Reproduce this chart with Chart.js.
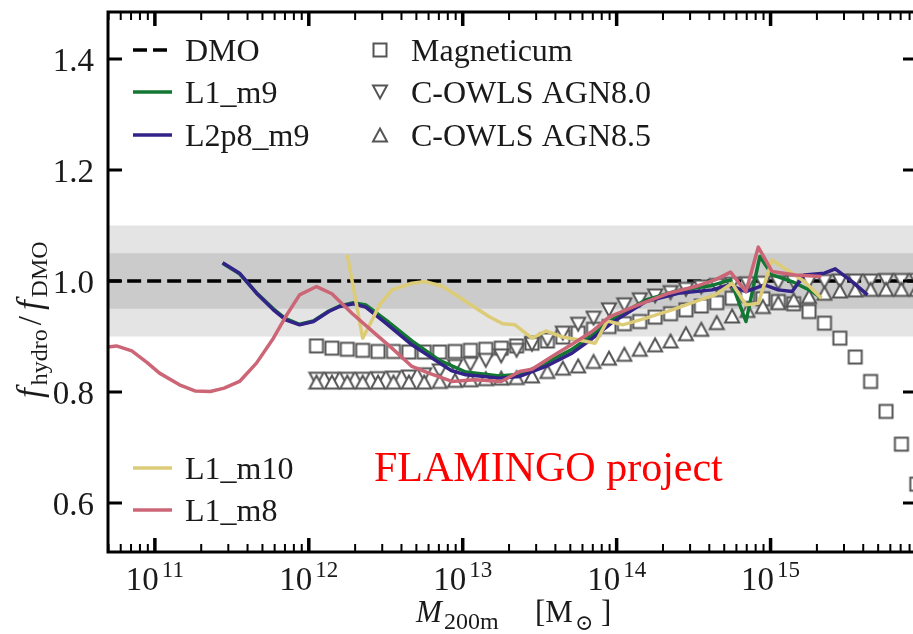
<!DOCTYPE html>
<html lang="en">
<head>
  <meta charset="UTF-8" />
  <title>f_hydro / f_DMO vs M200m</title>
  <script src="https://cdn.jsdelivr.net/npm/chart.js"></script>
  <style>
    html, body { margin: 0; padding: 0; background: #fff; overflow: hidden; }
    #wrap { width: 925px; height: 634px; }
  </style>
</head>
<body>
  <div id="wrap"><canvas id="ratioChart" width="925" height="634"></canvas></div>

  <script>
// === Data: log10(M200m / Msun) and f_hydro / f_DMO ===
const m8LogM = [10.69, 10.75, 10.85, 10.95, 11.03, 11.16, 11.26, 11.36, 11.45, 11.55,
                11.66, 11.77, 11.85, 11.94, 12.05, 12.15, 12.28, 12.44, 12.54, 12.67,
                12.78, 12.93, 13.08, 13.25, 13.37, 13.45, 13.58, 13.71, 13.84, 13.95,
                14.14, 14.34, 14.51, 14.64, 14.74, 14.84, 14.92, 15.01, 15.16, 15.33];
const m8Ratio = [0.881, 0.883, 0.874, 0.853, 0.834, 0.813, 0.802, 0.801, 0.807, 0.819,
                 0.852, 0.897, 0.936, 0.975, 0.990, 0.977, 0.942, 0.903, 0.879, 0.846,
                 0.834, 0.819, 0.822, 0.819, 0.837, 0.841, 0.864, 0.886, 0.909, 0.935,
                 0.957, 0.978, 0.990, 1.002, 1.016, 0.981, 1.061, 1.017, 1.011, 1.008];

const m9LogM = [11.44, 11.55, 11.66, 11.77, 11.85, 11.94, 12.03, 12.13, 12.20, 12.29,
                12.37, 12.50, 12.67, 12.85, 13.02, 13.24, 13.37, 13.54, 13.71, 13.84,
                13.97, 14.19, 14.40, 14.62, 14.74, 14.84, 14.93, 15.01, 15.14, 15.27, 15.33];
const m9Ratio = [1.032, 1.013, 0.979, 0.950, 0.932, 0.922, 0.928, 0.946, 0.955, 0.961,
                 0.957, 0.930, 0.892, 0.857, 0.836, 0.829, 0.832, 0.852, 0.877, 0.902,
                 0.930, 0.966, 0.983, 0.992, 1.002, 0.927, 1.044, 1.011, 0.999, 0.981, 0.969];

const l2p8LogM = [11.44, 11.55, 11.66, 11.77, 11.85, 11.94, 12.03, 12.13, 12.20, 12.29,
                  12.37, 12.50, 12.67, 12.85, 12.93, 13.02, 13.24, 13.37, 13.54, 13.71,
                  13.84, 13.97, 14.19, 14.40, 14.62, 14.73, 14.84, 14.96, 15.05, 15.14,
                  15.22, 15.35, 15.42, 15.53, 15.63];
const l2p8Ratio = [1.033, 1.014, 0.978, 0.948, 0.930, 0.921, 0.927, 0.945, 0.954, 0.959,
                   0.953, 0.924, 0.885, 0.852, 0.838, 0.831, 0.825, 0.828, 0.846, 0.870,
                   0.896, 0.925, 0.963, 0.978, 0.984, 0.993, 0.981, 0.993, 0.984, 0.981,
                   1.011, 1.014, 1.022, 0.999, 0.975];

const m10LogM = [12.25, 12.35, 12.39, 12.46, 12.54, 12.67, 12.76, 12.87, 13.02, 13.17,
                 13.26, 13.34, 13.45, 13.54, 13.65, 13.75, 13.86, 13.94, 14.04, 14.19,
                 14.36, 14.51, 14.64, 14.75, 14.84, 14.92, 15.01, 15.09, 15.22, 15.33];
const m10Ratio = [1.047, 0.897, 0.918, 0.957, 0.984, 0.996, 0.999, 0.990, 0.963, 0.936,
                  0.923, 0.921, 0.897, 0.910, 0.899, 0.894, 0.888, 0.928, 0.921, 0.933,
                  0.948, 0.963, 0.975, 0.996, 0.957, 0.960, 1.038, 1.023, 0.999, 0.969];

// Magneticum and cosmo-OWLS share one mass grid
const simLogM = [12.05, 12.15, 12.25, 12.35, 12.45, 12.55, 12.65, 12.75, 12.85, 12.95,
                 13.05, 13.15, 13.25, 13.35, 13.45, 13.55, 13.65, 13.75, 13.85, 13.95,
                 14.05, 14.15, 14.25, 14.35, 14.45, 14.55, 14.65, 14.75, 14.85, 14.95,
                 15.05, 15.15, 15.25, 15.35, 15.45, 15.55, 15.65, 15.75, 15.85, 15.95];
const magneticumRatio = [0.883, 0.879, 0.877, 0.875, 0.873, 0.873, 0.872, 0.872, 0.872, 0.873,
                         0.875, 0.877, 0.879, 0.883, 0.888, 0.892, 0.899, 0.906, 0.913, 0.918,
                         0.923, 0.927, 0.935, 0.941, 0.948, 0.955, 0.961, 0.969, 0.974, 0.968,
                         0.963, 0.959, 0.945, 0.924, 0.897, 0.863, 0.819, 0.765, 0.706, 0.634];
const agn80Ratio = [0.823, 0.823, 0.823, 0.823, 0.824, 0.825, 0.827, 0.831, 0.838, 0.846,
                    0.850, 0.857, 0.865, 0.875, 0.886, 0.894, 0.906, 0.922, 0.933, 0.948,
                    0.957, 0.966, 0.973, 0.979, 0.985, 0.989, 0.992, 0.994, 0.995, 0.996,
                    0.997, 0.998, 0.999, 0.999, 1.000, 1.000, 1.000, 1.001, 1.001, 1.001];
const agn85Ratio = [0.818, 0.818, 0.818, 0.818, 0.818, 0.818, 0.818, 0.818, 0.819, 0.821,
                    0.822, 0.824, 0.825, 0.826, 0.829, 0.837, 0.843, 0.847, 0.855, 0.861,
                    0.868, 0.877, 0.885, 0.892, 0.905, 0.913, 0.925, 0.937, 0.947, 0.954,
                    0.961, 0.966, 0.972, 0.978, 0.982, 0.984, 0.985, 0.985, 0.985, 0.985];

const dmoLogM = [10.69, 15.96];
const dmoRatio = [1.0, 1.0];

// shaded 10% and 5% bands around unity
const outerBand = [0.90, 1.10];
const innerBand = [0.95, 1.05];

const yTicks = [0.6, 0.8, 1.0, 1.2, 1.4];
const xDecades = [11, 12, 13, 14, 15];

const SERIF = '"Liberation Serif", "Times New Roman", serif';
const COLORS = { m8: '#cc6677', m9: '#117733', l2p8: '#332288', m10: '#ddcc77' };

function toPoints(logM, ratio) {
  return logM.map((m, i) => ({ x: Math.pow(10, m), y: ratio[i] }));
}

// open markers, white inside, grey edge
function markerCanvas(kind) {
  const c = document.createElement('canvas');
  c.width = 18; c.height = 18;
  const g = c.getContext('2d');
  g.beginPath();
  if (kind === 'square') {
    g.rect(2.5, 2.5, 13, 13);
  } else if (kind === 'down') {
    g.moveTo(2, 2.5); g.lineTo(16, 2.5); g.lineTo(9, 15.5); g.closePath();
  } else {
    g.moveTo(9, 2.5); g.lineTo(16, 15.5); g.lineTo(2, 15.5); g.closePath();
  }
  g.fillStyle = '#ffffff';
  g.fill();
  g.lineWidth = 2;
  g.strokeStyle = '#555555';
  g.stroke();
  return c;
}
const squareMark = markerCanvas('square');
const downMark = markerCanvas('down');
const upMark = markerCanvas('up');

function lineSet(label, logM, ratio, color, order) {
  return {
    label, data: toPoints(logM, ratio), showLine: true,
    borderColor: color, borderWidth: 3.5, pointRadius: 0,
    borderJoinStyle: 'round', tension: 0, order
  };
}
function markerSet(label, ratio, mark, order) {
  return {
    label, data: toPoints(simLogM, ratio), showLine: false,
    pointStyle: mark, pointRadius: 7, clip: false, order
  };
}

// === Bands, frame, ticks, labels and legends ===
const decorations = {
  id: 'decorations',
  beforeDatasetsDraw(chart) {
    const { ctx, chartArea: a, scales: { y } } = chart;
    ctx.save();
    ctx.fillStyle = '#e4e4e4';
    let t = y.getPixelForValue(outerBand[1]), b = y.getPixelForValue(outerBand[0]);
    ctx.fillRect(a.left, t, a.right - a.left, b - t);
    ctx.fillStyle = '#cbcbcb';
    t = y.getPixelForValue(innerBand[1]); b = y.getPixelForValue(innerBand[0]);
    ctx.fillRect(a.left, t, a.right - a.left, b - t);
    ctx.restore();
  },
  afterDraw(chart) {
    const { ctx, chartArea: a, scales: { x, y } } = chart;
    ctx.save();

    // spines
    ctx.strokeStyle = '#000';
    ctx.lineWidth = 3;
    ctx.strokeRect(a.left, a.top, a.right - a.left, a.bottom - a.top);

    // x ticks (log, inward, top and bottom)
    for (let d = 10; d <= 16; d++) {
      for (let k = 1; k <= 9; k++) {
        const v = k * Math.pow(10, d);
        if (v < x.min || v > x.max) continue;
        const px = x.getPixelForValue(v);
        const major = k === 1;
        const len = major ? 14 : 8;
        ctx.lineWidth = major ? 3.5 : 2;
        ctx.beginPath();
        ctx.moveTo(px, a.bottom); ctx.lineTo(px, a.bottom - len);
        ctx.moveTo(px, a.top); ctx.lineTo(px, a.top + len);
        ctx.stroke();
      }
    }
    // y ticks
    ctx.lineWidth = 3;
    yTicks.forEach(v => {
      const py = y.getPixelForValue(v);
      ctx.beginPath();
      ctx.moveTo(a.left, py); ctx.lineTo(a.left + 14, py);
      ctx.moveTo(a.right, py); ctx.lineTo(a.right - 14, py);
      ctx.stroke();
    });

    // tick labels
    ctx.fillStyle = '#1a1a1a';
    ctx.textAlign = 'right';
    ctx.font = `33px ${SERIF}`;
    yTicks.forEach(v => {
      ctx.fillText(v.toFixed(1), a.left - 14, y.getPixelForValue(v) + 12);
    });
    ctx.textAlign = 'left';
    xDecades.forEach(e => {
      const cx = x.getPixelForValue(Math.pow(10, e));
      ctx.font = `33px ${SERIF}`;
      const wb = ctx.measureText('10').width;
      ctx.font = `23px ${SERIF}`;
      const we = ctx.measureText(String(e)).width;
      const left = cx - (wb + we + 3) / 2;
      ctx.font = `33px ${SERIF}`;
      ctx.fillText('10', left, 590);
      ctx.font = `23px ${SERIF}`;
      ctx.fillText(String(e), left + wb + 3, 577);
    });

    // x axis title: M_200m [M_sun]
    ctx.font = `italic 31px ${SERIF}`;
    ctx.fillText('M', 416, 622);
    ctx.font = `24px ${SERIF}`;
    ctx.fillText('200m', 444, 629);
    ctx.font = `31px ${SERIF}`;
    ctx.fillText('[M', 535, 622);
    ctx.font = `22px "DejaVu Serif", serif`;
    ctx.fillText('\u2299', 575, 630);
    ctx.font = `31px ${SERIF}`;
    ctx.fillText(']', 601, 622);

    // y axis title: f_hydro / f_DMO
    ctx.save();
    ctx.translate(41, 398);
    ctx.rotate(-Math.PI / 2);
    let cx = 0;
    const piece = (txt, font, dy) => {
      ctx.font = font;
      ctx.fillText(txt, cx, dy);
      cx += ctx.measureText(txt).width;
    };
    piece('f', `italic 35px ${SERIF}`, 0);
    cx += 3;
    piece('hydro', `24px ${SERIF}`, 6);
    cx += 4;
    piece('/', `33px ${SERIF}`, 0);
    cx += 6;
    piece('f', `italic 35px ${SERIF}`, 0);
    cx += 3;
    piece('DMO', `24px ${SERIF}`, 6);
    ctx.restore();

    // legends
    ctx.font = `32px ${SERIF}`;
    ctx.fillStyle = '#1a1a1a';
    const lineEntry = (label, color, yy, dash) => {
      ctx.save();
      ctx.strokeStyle = color;
      ctx.lineWidth = 3.5;
      ctx.setLineDash(dash || []);
      ctx.beginPath();
      ctx.moveTo(133, yy); ctx.lineTo(172, yy);
      ctx.stroke();
      ctx.restore();
      ctx.fillText(label, 185, yy + 11);
    };
    const markEntry = (label, mark, yy) => {
      ctx.drawImage(mark, 380 - 9, yy - 9);
      ctx.fillText(label, 411, yy + 11);
    };
    lineEntry('DMO', '#000', 50, [14, 6]);
    lineEntry('L1_m9', COLORS.m9, 92);
    lineEntry('L2p8_m9', COLORS.l2p8, 135);
    markEntry('Magneticum', squareMark, 50);
    markEntry('C-OWLS AGN8.0', downMark, 92);
    markEntry('C-OWLS AGN8.5', upMark, 135);
    lineEntry('L1_m10', COLORS.m10, 468);
    lineEntry('L1_m8', COLORS.m8, 510);

    ctx.fillStyle = '#ff0000';
    ctx.font = `42px ${SERIF}`;
    ctx.fillText('FLAMINGO project', 374, 481);

    ctx.restore();
  }
};

const ctx = document.getElementById('ratioChart').getContext('2d');
new Chart(ctx, {
  type: 'scatter',
  data: {
    datasets: [
      lineSet('L1_m8', m8LogM, m8Ratio, COLORS.m8, 1),
      lineSet('L1_m10', m10LogM, m10Ratio, COLORS.m10, 2),
      lineSet('L2p8_m9', l2p8LogM, l2p8Ratio, COLORS.l2p8, 3),
      lineSet('L1_m9', m9LogM, m9Ratio, COLORS.m9, 4),
      markerSet('C-OWLS AGN8.5', agn85Ratio, upMark, 5),
      markerSet('C-OWLS AGN8.0', agn80Ratio, downMark, 6),
      markerSet('Magneticum', magneticumRatio, squareMark, 7),
      {
        label: 'DMO', data: toPoints(dmoLogM, dmoRatio), showLine: true,
        borderColor: '#000', borderWidth: 3.5, borderDash: [14, 6],
        pointRadius: 0, order: 8
      }
    ]
  },
  options: {
    responsive: false,
    animation: false,
    events: [],
    layout: { padding: { left: 108, top: 12, right: 6, bottom: 82 } },
    scales: {
      x: { type: 'logarithmic', min: 4.96e10, max: 8.94e15, display: false },
      y: { type: 'linear', min: 0.5117, max: 1.4847, display: false }
    },
    plugins: { legend: { display: false }, tooltip: { enabled: false } }
  },
  plugins: [decorations]
});
  </script>
</body>
</html>
